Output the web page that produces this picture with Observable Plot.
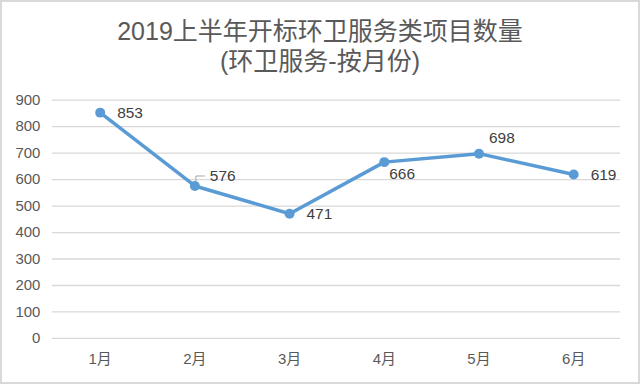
<!DOCTYPE html>
<html><head><meta charset="utf-8">
<script src="https://cdn.jsdelivr.net/npm/d3@7"></script>
<script src="https://cdn.jsdelivr.net/npm/@observablehq/plot@0.6"></script>
<style>
body{margin:0;background:#fff;}
#wrap{position:relative;width:640px;height:384px;box-sizing:border-box;border:2px solid #d9d9d9;overflow:hidden;font-family:"Liberation Sans","Noto Sans CJK SC",sans-serif;}
#title{position:absolute;left:0;top:14px;width:636px;text-align:center;color:#595959;font-size:25px;line-height:30px;}
#chart{position:absolute;left:-2px;top:-2px;}
</style></head>
<body>
<div id="wrap"><div id="chart"></div><div id="title">2019上半年开标环卫服务类项目数量<br>(环卫服务-按月份)</div></div>
<script>
const months = ["1月","2月","3月","4月","5月","6月"];
const counts = [853, 576, 471, 666, 698, 619];
const yTicks = [0,100,200,300,400,500,600,700,800,900];

const data = months.map((m,i)=>({month:m, value:counts[i]}));
const rightLabels = ["1月","3月","6月"];
const lowLabels = ["4月"];
const highLabels = ["5月"];
const leaderLabels = ["2月"];

const leader = {draw(ctx){ctx.moveTo(1,-5);ctx.lineTo(1,-10);ctx.lineTo(10,-10);}};
const font = {fontSize:15.5, fill:"#404040", fontFamily:"Liberation Sans, Noto Sans CJK SC, sans-serif"};

const chart = Plot.plot({
  width:640, height:384,
  marginTop:100, marginBottom:45, marginLeft:52, marginRight:18,
  style:{fontFamily:"Liberation Sans, Noto Sans CJK SC, sans-serif", fontSize:"15px", color:"#595959", background:"transparent"},
  x:{type:"point", domain:months, padding:0.5, label:null, tickSize:0, tickPadding:14},
  y:{domain:[0,900], ticks:yTicks, label:null, tickSize:0, tickPadding:12},
  marks:[
    Plot.gridY(yTicks,{stroke:"#d9d9d9", strokeOpacity:1, strokeWidth:1.3}),
    Plot.axisX({tickSize:0, tickPadding:15, fill:"#595959"}),
    Plot.axisY(yTicks,{tickSize:0, tickPadding:12, fill:"#595959"}),
    Plot.line(data,{x:"month", y:"value", stroke:"#5b9bd5", strokeWidth:3.5}),
    Plot.dot(data,{x:"month", y:"value", r:5, fill:"#5b9bd5"}),
    Plot.dot(data.filter(d=>leaderLabels.includes(d.month)),{x:"month", y:"value", symbol:leader, r:5, stroke:"#a6a6a6", strokeWidth:1, fill:"none"}),
    Plot.text(data.filter(d=>rightLabels.includes(d.month)),{x:"month", y:"value", text:d=>String(d.value), textAnchor:"start", dx:17, ...font}),
    Plot.text(data.filter(d=>lowLabels.includes(d.month)),{x:"month", y:"value", text:d=>String(d.value), textAnchor:"start", dx:5, dy:12, ...font}),
    Plot.text(data.filter(d=>highLabels.includes(d.month)),{x:"month", y:"value", text:d=>String(d.value), textAnchor:"start", dx:10, dy:-16, ...font}),
    Plot.text(data.filter(d=>leaderLabels.includes(d.month)),{x:"month", y:"value", text:d=>String(d.value), textAnchor:"start", dx:15, dy:-10, ...font})
  ]
});
document.getElementById("chart").appendChild(chart);
</script>
</body></html>
